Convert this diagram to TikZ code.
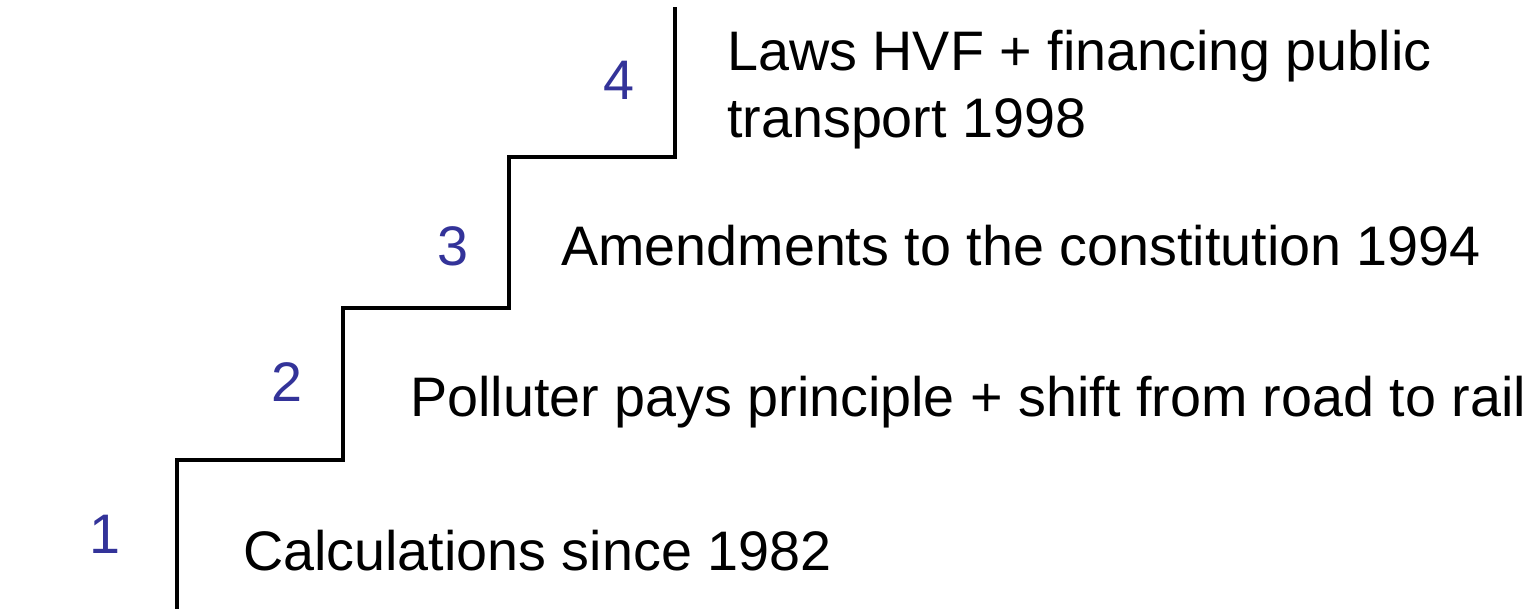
\documentclass[tikz,border=0pt]{standalone}
\usepackage{fontspec}
\setmainfont{Liberation Sans}
\definecolor{numblue}{RGB}{51,51,153}
\begin{document}
\begin{tikzpicture}[x=1pt,y=-1pt,
  stair/.style={line width=3.5pt,line join=miter},
  lbl/.style={anchor=base west,inner sep=0pt,font=\fontsize{55.7}{66}\selectfont},
  num/.style={anchor=base,inner sep=0pt,text=numblue,font=\fontsize{55.7}{66}\selectfont}]
\useasboundingbox (0,0) rectangle (1540,609);
\coordinate (s0) at (177,611);
\coordinate (s1) at (177,460);
\coordinate (s2) at (343,460);
\coordinate (s3) at (343,308);
\coordinate (s4) at (509,308);
\coordinate (s5) at (509,157);
\coordinate (s6) at (675,157);
\coordinate (s7) at (675,7);
\draw[stair] (s0) -- (s1) -- (s2) -- (s3) -- (s4) -- (s5) -- (s6) -- (s7);
\node[num] (n1) at (105,553) {1};
\node[num] (n2) at (287,402) {2};
\node[num] (n3) at (453,266) {3};
\node[num] (n4) at (619,100) {4};
\node[lbl] (t1) at (243,570) {Calculations since 1982};
\node[lbl] (t2) at (410,417) {Polluter pays principle + shift from road to rail};
\node[lbl] (t3) at (561,266) {Amendments to the constitution 1994};
\node[lbl] (t4a) at (727,71) {Laws HVF + financing public};
\node[lbl] (t4b) at (727,138) {transport 1998};
\end{tikzpicture}
\end{document}
